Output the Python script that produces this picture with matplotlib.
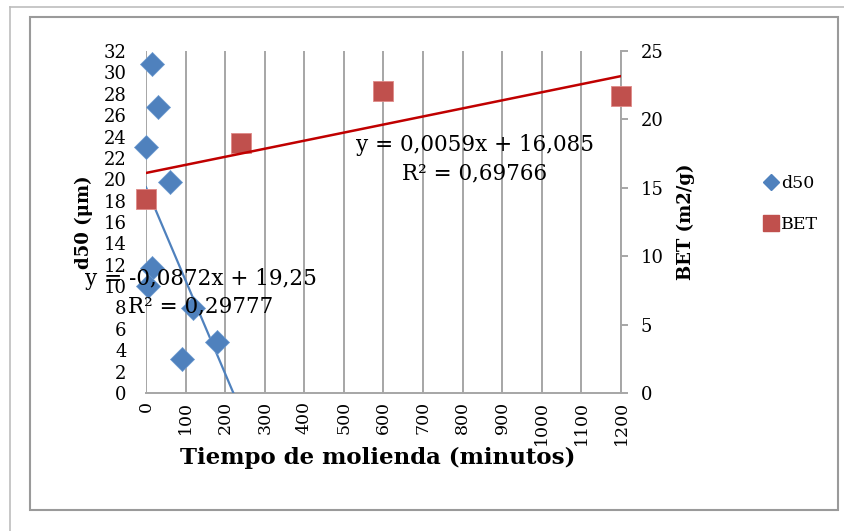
import matplotlib.pyplot as plt
import numpy as np
from matplotlib.lines import Line2D

# d50 data (minutes, um)
t_d50 = [0, 15, 30, 60, 15, 5, 120, 90, 180]
d50 = [23.0, 30.8, 26.8, 19.7, 11.7, 10.0, 8.0, 3.2, 4.8]

# BET data (minutes, m2/g)
t_bet = [0, 240, 600, 1200]
bet = [14.2, 18.3, 22.1, 21.7]

# trendline coefficients as printed on the chart
d50_fit = (-0.0872, 19.25)
bet_fit = (0.0059, 16.085)
d50_eq = "y = -0,0872x + 19,25\nR\u00b2 = 0,29777"
bet_eq = "y = 0,0059x + 16,085\nR\u00b2 = 0,69766"

blue = "#4F81BD"
red = "#C0504D"
grid_c = "#a6a6a6"

plt.rcParams['font.family'] = ['DejaVu Serif']

W, H = 845, 531
fig = plt.figure(figsize=(W / 100, H / 100), dpi=100)

# frames around the chart
fig.add_artist(plt.Rectangle((30 / W, 1 - 510 / H), 808 / W, 493 / H,
                             transform=fig.transFigure, fill=False,
                             edgecolor="#9a9a9a", linewidth=1.5))
fig.add_artist(Line2D([10 / W, 10 / W], [0, 1 - 7 / H], transform=fig.transFigure,
                      color="#bdbdbd", linewidth=1.2))
fig.add_artist(Line2D([10 / W, 1], [1 - 7 / H, 1 - 7 / H], transform=fig.transFigure,
                      color="#bdbdbd", linewidth=1.2))

ax = fig.add_axes([146 / W, 1 - 393 / H, 475 / W, 342 / H])
ax2 = ax.twinx()

ax.set_xlim(0, 1200)
ax.set_ylim(0, 32)
ax2.set_ylim(0, 25)

ax.set_xticks(np.arange(0, 1201, 100))
ax.set_yticks(np.arange(0, 33, 2))
ax2.set_yticks(np.arange(0, 26, 5))

ax.grid(axis='x', color=grid_c, linewidth=1.4)
ax.set_axisbelow(True)

for s in ['top', 'left']:
    ax.spines[s].set_visible(False)
    ax2.spines[s].set_visible(False)
ax.spines['right'].set_visible(False)
ax.spines['bottom'].set_color(grid_c)
ax.spines['bottom'].set_linewidth(1.4)
ax2.spines['bottom'].set_visible(False)
ax2.spines['right'].set_color(grid_c)
ax2.spines['right'].set_linewidth(1.4)

ax.tick_params(axis='y', length=0, labelsize=13, pad=14)
ax.tick_params(axis='x', length=0, labelsize=12.5, labelrotation=90, pad=6)
ax2.tick_params(axis='y', length=5, color=grid_c, width=1.4, labelsize=13, pad=9)

# d50 series and trendline
xl = np.array([0, 1200])
ax.plot(xl, d50_fit[0] * xl + d50_fit[1], color=blue, linewidth=1.6, zorder=3)
ax.scatter(t_d50, d50, marker='D', s=150, color=blue, edgecolors='#6d9bd1',
           linewidths=0.5, zorder=4, clip_on=False)

# BET series and trendline
ax2.scatter(t_bet, bet, marker='s', s=210, color=red, edgecolors='#e08a88',
            linewidths=0.6, zorder=3, clip_on=False)
ax2.plot(xl, bet_fit[0] * xl + bet_fit[1], color="#C00000", linewidth=1.8, zorder=4)

ax2.text(830, 17.1, bet_eq, ha='center', va='center', fontsize=15.5,
         multialignment='center', linespacing=1.35)
ax.text(139, 9.4, d50_eq, ha='center', va='center', fontsize=15.5,
        multialignment='center', linespacing=1.35, zorder=6)

ax.set_ylabel("d50 (\u03bcm)", fontsize=13, fontweight='bold')
ax.yaxis.set_label_coords(-0.111, 0.5)
ax2.set_ylabel("BET (m2/g)", fontsize=13, fontweight='bold')
ax2.yaxis.set_label_coords(1.118, 0.5)
ax.set_xlabel("Tiempo de molienda (minutos)", fontsize=16.5, fontweight='bold')
ax.xaxis.set_label_coords(0.487, -0.158)

handles = [Line2D([], [], marker='D', linestyle='none', color=blue, markersize=8),
           Line2D([], [], marker='s', linestyle='none', color=red, markersize=11)]
fig.legend(handles, ['d50', 'BET'], loc='center left',
           bbox_to_anchor=(748 / W, 1 - 204 / H), frameon=False,
           fontsize=12.5, handlelength=0.8, handletextpad=0.2, labelspacing=1.35)

fig.savefig("out.png", dpi=100)
